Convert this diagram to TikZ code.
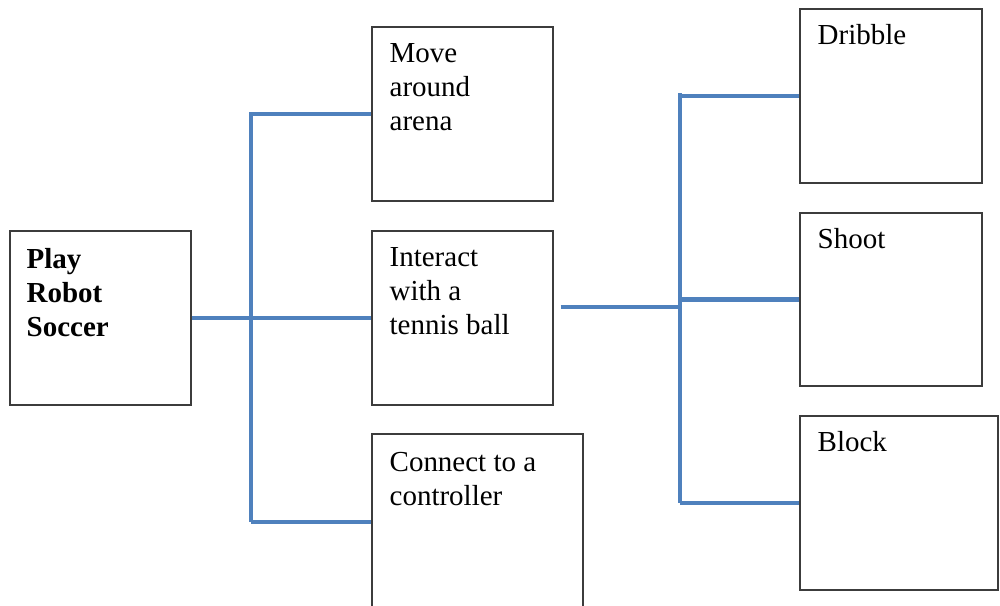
\documentclass[tikz,border=0pt]{standalone}
\usepackage{fontspec}
\setmainfont{Liberation Serif}
\usetikzlibrary{calc}
\definecolor{linkblue}{RGB}{79,129,189}
\definecolor{boxgray}{RGB}{60,60,60}
\tikzset{
  box/.style={draw=boxgray, line width=0.8pt, minimum width=#1, inner sep=0pt, fill=white},
  lbl/.style={anchor=north west, xshift=0.36cm, yshift=-6.9pt, align=left, inner sep=0pt,
    font=\fontsize{16.5}{19.4}\selectfont},
  link/.style={draw=linkblue, line width=2.3pt}
}
\begin{document}
\begin{tikzpicture}[x=0.02cm, y=-0.02cm]
\useasboundingbox (0,0) rectangle (1000,605);
\node[box=3.62cm, minimum height=3.48cm,
  label={[lbl, xshift=-0.02cm, yshift=-0.04cm]north west:{\strut\bfseries Play\\\bfseries Robot\\\bfseries Soccer}}]
  (play) at (100.5,318) {};
\node[box=3.62cm, minimum height=3.48cm,
  label={[lbl]north west:{\strut Move\\around\\arena}}] (move) at (462.5,114) {};
\node[box=3.62cm, minimum height=3.48cm,
  label={[lbl]north west:{\strut Interact\\with a\\tennis ball}}] (interact) at (462.5,318) {};
\node[box=4.22cm, minimum height=3.52cm,
  label={[lbl, yshift=-0.04cm]north west:{\strut Connect to a\\controller}}] (connect) at (477.5,522) {};
\node[box=3.64cm, minimum height=3.48cm,
  label={[lbl]north west:{\strut Dribble}}] (dribble) at (891,96) {};
\node[box=3.64cm, minimum height=3.46cm,
  label={[lbl]north west:{\strut Shoot}}] (shoot) at (891,299.5) {};
\node[box=3.96cm, minimum height=3.48cm,
  label={[lbl]north west:{\strut Block}}] (block) at (899,503) {};

% left tree
\coordinate (lbus) at (251,318);
\draw[link] (play.east) -- (lbus);
\draw[link] (251,112) -- (251,522);
\draw[link] (251,114) -- (move.west);
\draw[link] (lbus) -- (interact.west);
\draw[link] (251,522) -- (connect.west);

% right tree
\coordinate (rstart) at ($(interact.east)+(7,-11)$);
\coordinate (rbus) at (680,307);
\draw[link] (rstart) -- (rbus);
\draw[link] (680,93) -- (680,503);
\draw[link] (680,96) -- (dribble.west);
\draw[link] (680,299.5) -- (shoot.west);
\draw[link] (680,503) -- (block.west);
\end{tikzpicture}
\end{document}
